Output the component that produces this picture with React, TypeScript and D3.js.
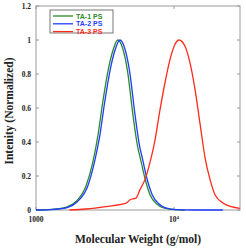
import React, { useEffect, useRef } from 'react';
import * as d3 from 'd3';

// Molecular weight (g/mol) and normalized intensity
const ta1Mw = [1000, 1300, 1650, 1950, 2300, 2580, 2800, 3040, 3310, 3600, 3910, 4250, 4620, 5020, 5460, 5680, 6100, 6700, 7500, 8400, 10000, 12000];
const ta1Int = [0, 0.004, 0.016, 0.05, 0.14, 0.28, 0.43, 0.63, 0.81, 0.935, 1.0, 0.95, 0.81, 0.57, 0.37, 0.31, 0.2, 0.09, 0.035, 0.012, 0.002, 0];

const ta2Mw = [1000, 1350, 1700, 2000, 2370, 2650, 2890, 3140, 3420, 3720, 4050, 4400, 4780, 5200, 5650, 5880, 6300, 6950, 7800, 8700, 10500, 14000, 22600];
const ta2Int = [0, 0.004, 0.016, 0.05, 0.14, 0.28, 0.43, 0.63, 0.81, 0.935, 1.0, 0.95, 0.81, 0.57, 0.37, 0.31, 0.2, 0.09, 0.035, 0.012, 0.002, 0, 0];

const ta3Mw = [1750, 2300, 3200, 4500, 4800, 5300, 5670, 6170, 6700, 7280, 7920, 8610, 9360, 10170, 10870, 12000, 13060, 14200, 15430, 16770, 18240, 19820, 22760, 26000, 30080];
const ta3Int = [0, 0.006, 0.02, 0.04, 0.06, 0.07, 0.12, 0.18, 0.28, 0.41, 0.59, 0.75, 0.886, 0.975, 1.0, 0.965, 0.866, 0.71, 0.51, 0.31, 0.18, 0.09, 0.04, 0.02, 0.01];

const seriesNames = ['TA-1 PS', 'TA-2 PS', 'TA-3 PS'];
const seriesColors = ['#2a8a2a', '#1f3cff', '#ff2a1a'];
const yTicks = [0, 0.2, 0.4, 0.6, 0.8, 1, 1.2];
const xTicks = [1000, 10000];

export default function App() {
  const svgRef = useRef<SVGSVGElement>(null);

  useEffect(() => {
    if (!svgRef.current) return;
    const svg = d3.select(svgRef.current);
    svg.selectAll('*').remove();

    const left = 36, right = 240, top = 6, bottom = 210;
    const x = d3.scaleLog().domain([1000, 30080]).range([left, right]);
    const y = d3.scaleLinear().domain([0, 1.2]).range([bottom, top]);
    const frame = '#9a9a9a';
    const serif = '"Liberation Serif", "Times New Roman", serif';

    svg.append('rect')
      .attr('x', left).attr('y', top)
      .attr('width', right - left).attr('height', bottom - top)
      .attr('fill', 'none').attr('stroke', frame).attr('stroke-width', 1);

    // inward ticks on all four sides
    yTicks.forEach(t => {
      svg.append('line').attr('x1', left).attr('x2', left + 3).attr('y1', y(t)).attr('y2', y(t)).attr('stroke', frame);
      svg.append('line').attr('x1', right).attr('x2', right - 3).attr('y1', y(t)).attr('y2', y(t)).attr('stroke', frame);
      svg.append('text')
        .attr('x', left - 5).attr('y', y(t) + 2.5)
        .attr('text-anchor', 'end')
        .attr('font-family', serif).attr('font-weight', 'bold').attr('font-size', 7.5)
        .attr('fill', '#222')
        .text(String(t));
    });
    xTicks.forEach(t => {
      svg.append('line').attr('x1', x(t)).attr('x2', x(t)).attr('y1', bottom).attr('y2', bottom - 3).attr('stroke', frame);
      svg.append('line').attr('x1', x(t)).attr('x2', x(t)).attr('y1', top).attr('y2', top + 3).attr('stroke', frame);
    });
    svg.append('text')
      .attr('x', x(1000)).attr('y', 222)
      .attr('text-anchor', 'middle')
      .attr('font-family', serif).attr('font-weight', 'bold').attr('font-size', 7.5).attr('fill', '#222')
      .text('1000');
    const t4 = svg.append('text')
      .attr('x', x(10000)).attr('y', 222)
      .attr('text-anchor', 'middle')
      .attr('font-family', serif).attr('font-weight', 'bold').attr('font-size', 7.5).attr('fill', '#222');
    t4.append('tspan').text('10');
    t4.append('tspan').attr('dy', -3).attr('font-size', 5).text('4');

    const line = d3.line<[number, number]>()
      .x(d => x(d[0]))
      .y(d => y(d[1]))
      .curve(d3.curveMonotoneX);

    const series = [
      ta1Mw.map((m, i) => [m, ta1Int[i]] as [number, number]),
      ta2Mw.map((m, i) => [m, ta2Int[i]] as [number, number]),
      ta3Mw.map((m, i) => [m, ta3Int[i]] as [number, number]),
    ];
    series.forEach((s, i) => {
      svg.append('path')
        .attr('d', line(s) || '')
        .attr('fill', 'none')
        .attr('stroke', seriesColors[i])
        .attr('stroke-width', 1.3);
    });

    // legend
    const lg = svg.append('g');
    lg.append('rect')
      .attr('x', 50).attr('y', 10).attr('width', 63).attr('height', 23)
      .attr('fill', 'white').attr('stroke', '#555').attr('stroke-width', 0.8);
    seriesNames.forEach((n, i) => {
      const yy = 16 + i * 7.8;
      lg.append('line').attr('x1', 53).attr('x2', 73).attr('y1', yy).attr('y2', yy)
        .attr('stroke', seriesColors[i]).attr('stroke-width', 1.3);
      lg.append('text')
        .attr('x', 76).attr('y', yy + 2.5)
        .attr('font-family', '"Liberation Sans", Arial, sans-serif')
        .attr('font-weight', 'bold').attr('font-size', 7)
        .attr('fill', seriesColors[i])
        .text(n);
    });

    svg.append('text')
      .attr('x', 138).attr('y', 243)
      .attr('text-anchor', 'middle')
      .attr('font-family', serif).attr('font-weight', 'bold').attr('font-size', 11.5).attr('fill', '#222')
      .text('Molecular Weight (g/mol)');
    svg.append('text')
      .attr('transform', `translate(13,111) rotate(-90)`)
      .attr('text-anchor', 'middle')
      .attr('font-family', serif).attr('font-weight', 'bold').attr('font-size', 11.5).attr('fill', '#222')
      .text('Intenity (Normalized)');
  }, []);

  return (
    <svg
      ref={svgRef}
      width={246}
      height={251}
      style={{ position: 'absolute', left: 0, top: 0, background: 'white' }}
    />
  );
}
